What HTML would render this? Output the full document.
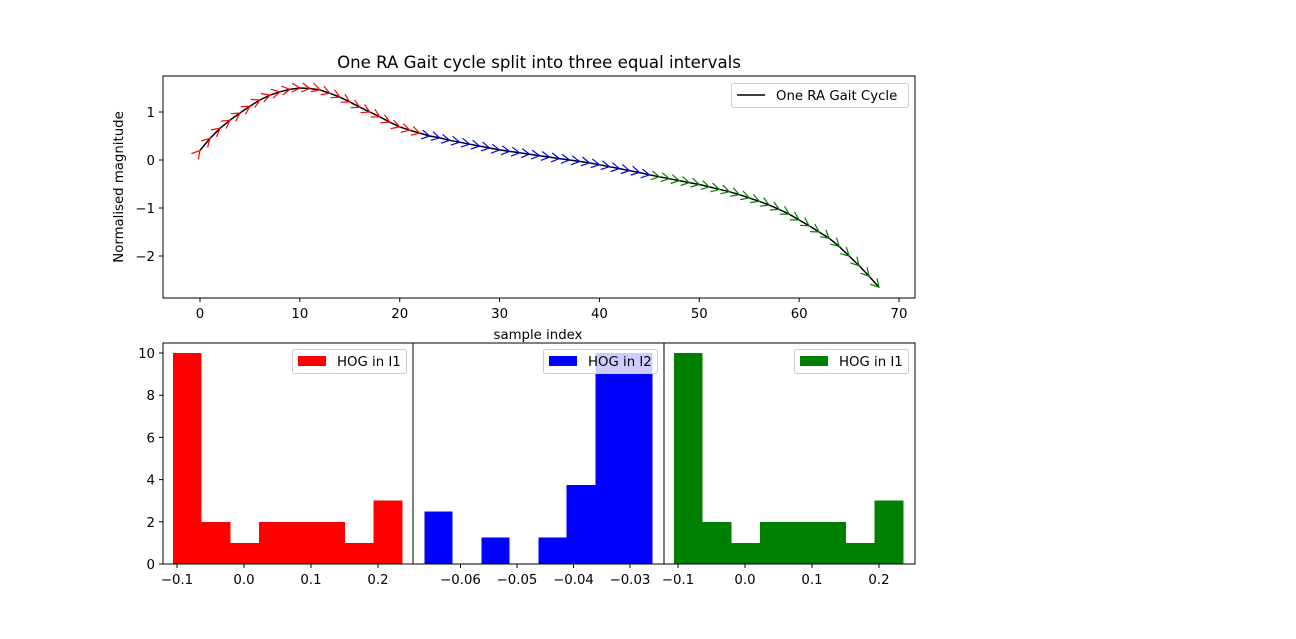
<!DOCTYPE html>
<html><head><meta charset="utf-8"><style>
body{margin:0;background:#fff;}
svg text{font-family:"DejaVu Sans","Liberation Sans",sans-serif;font-size:13.3px;fill:#000;}
</style></head><body>
<svg id="fig" width="1296" height="634" xmlns="http://www.w3.org/2000/svg">
<rect width="1296" height="634" fill="#fff"/>
<g id="topchart"></g>
<g id="h1"></g>
<g id="h2"></g>
<g id="h3"></g>
</svg>
<script>
const gaitValues=[0.2,0.45,0.66,0.83,0.98,1.12,1.25,1.35,1.42,1.47,1.5,1.49,1.46,1.39,1.31,1.21,1.1,1.0,0.9,0.79,0.69,0.62,0.56,0.5,0.46,0.41,0.37,0.33,0.29,0.25,0.21,0.18,0.15,0.12,0.09,0.06,0.03,0.0,-0.03,-0.06,-0.1,-0.14,-0.18,-0.22,-0.26,-0.31,-0.35,-0.39,-0.43,-0.47,-0.51,-0.56,-0.61,-0.66,-0.72,-0.79,-0.86,-0.94,-1.03,-1.13,-1.25,-1.37,-1.5,-1.63,-1.8,-2.0,-2.2,-2.42,-2.65];
const topXTicks=[0,10,20,30,40,50,60,70];
const topYTicks=[1,0,-1,-2];
const hist1Edges=[-0.106,-0.0632,-0.0204,0.0224,0.0652,0.108,0.1508,0.1936,0.2364];
const hist1Counts=[10,2,1,2,2,2,1,3];
const hist2Edges=[-0.0664,-0.0614,-0.0563,-0.0513,-0.0462,-0.0412,-0.0361,-0.0311,-0.026];
const hist2Counts=[2.5,0,1.25,0,1.25,3.75,10,10];
const hist3Edges=[-0.106,-0.0632,-0.0204,0.0224,0.0652,0.108,0.1508,0.1936,0.2364];
const hist3Counts=[10,2,1,2,2,2,1,3];
const histYTicks=[0,2,4,6,8,10];
const hist1XTicks=[-0.1,0.0,0.1,0.2];
const hist2XTicks=[-0.06,-0.05,-0.04,-0.03];
const hist3XTicks=[-0.1,0.0,0.1,0.2];

const NS="http://www.w3.org/2000/svg";
function mk(parent,tag,attrs,text){const e=document.createElementNS(NS,tag);for(const k in attrs)e.setAttribute(k,attrs[k]);if(text!==undefined)e.textContent=text;parent.appendChild(e);return e;}
function fmt(v,d){const s=v.toFixed(d);return (v<0?'\u2212'+s.slice(1):s);}

const topG=document.getElementById('topchart');
const tx=v=>200+9.986*v, ty=v=>160-48*v;
let pts=gaitValues.map((v,i)=>tx(i).toFixed(1)+','+ty(v).toFixed(1)).join(' ');
let line=mk(topG,'polyline',{points:pts,fill:'none',stroke:'#000','stroke-width':1.5});


const cols=['red','blue','green'];
for(let i=0;i<gaitValues.length;i++){
  const seg=Math.min(2,Math.floor(i/23));
  const j=i<gaitValues.length-1?i+1:i, k=i<gaitValues.length-1?i:i-1;
  const dx=tx(j)-tx(k), dy=ty(gaitValues[j])-ty(gaitValues[k]);
  const L=Math.hypot(dx,dy), ux=dx/L, uy=dy/L;
  const px=tx(i), py=ty(gaitValues[i]);
  const bx=px-ux*8, by=py-uy*8, nx=-uy*4.5, ny=ux*4.5;
  const a=mk(topG,'polyline',{points:`${(bx+nx).toFixed(1)},${(by+ny).toFixed(1)} ${px.toFixed(1)},${py.toFixed(1)} ${(bx-nx).toFixed(1)},${(by-ny).toFixed(1)}`,fill:'none',stroke:cols[seg],'stroke-width':1.2});
  
  
}
mk(topG,'rect',{x:163,y:76,width:752,height:222,fill:'none',stroke:'#000','stroke-width':1});
topXTicks.forEach(v=>{mk(topG,'line',{x1:tx(v),x2:tx(v),y1:298,y2:302,stroke:'#000'});const t=mk(topG,'text',{x:tx(v),y:318,'text-anchor':'middle'},String(v));});
topYTicks.forEach(v=>{mk(topG,'line',{x1:159,x2:163,y1:ty(v),y2:ty(v),stroke:'#000'});const t=mk(topG,'text',{x:155,y:ty(v)+5,'text-anchor':'end'},fmt(v,0));});
let t1=mk(topG,'text',{x:539,y:68,'text-anchor':'middle','style':'font-size:16.6px'},'One RA Gait cycle split into three equal intervals');

let t2=mk(topG,'text',{x:538,y:339,'text-anchor':'middle'},'sample index');

let t3=mk(topG,'text',{x:0,y:0,'text-anchor':'middle',transform:'translate(123,187) rotate(-90)'},'Normalised magnitude');

let lg=mk(topG,'g',{});

mk(lg,'rect',{x:731.5,y:83.5,width:177,height:24,rx:2,fill:'#fff','fill-opacity':0.8,stroke:'#ccc'});
mk(lg,'line',{x1:737,x2:765,y1:95,y2:95,stroke:'#000','stroke-width':1.5});
mk(lg,'text',{x:776,y:100},'One RA Gait Cycle');

function hist(id,x0,x1,xmap,edges,counts,color,xticks,dec,label,showY){
  const g=document.getElementById(id);
  const yv=v=>564-21.1*v;
  for(let i=0;i<counts.length;i++){
    if(counts[i]<=0)continue;
    const r=mk(g,'rect',{x:xmap(edges[i]),y:yv(counts[i]),width:xmap(edges[i+1])-xmap(edges[i]),height:564-yv(counts[i]),fill:color,'shape-rendering':'crispEdges'});
    
    
  }
  mk(g,'rect',{x:x0,y:343,width:x1-x0,height:221,fill:'none',stroke:'#000'});
  xticks.forEach(v=>{const p=xmap(v);mk(g,'line',{x1:p,x2:p,y1:564,y2:568,stroke:'#000'});const t=mk(g,'text',{x:p,y:584,'text-anchor':'middle'},fmt(v,dec));});
  if(showY)histYTicks.forEach(v=>{mk(g,'line',{x1:x0-4,x2:x0,y1:yv(v),y2:yv(v),stroke:'#000'});const t=mk(g,'text',{x:x0-8,y:yv(v)+5,'text-anchor':'end'},String(v));});
  const lw=114, lx=x1-7-lw;
  const l=mk(g,'g',{});
  
  
  mk(l,'rect',{x:lx+0.5,y:349.5,width:lw,height:24,rx:2,fill:'#fff','fill-opacity':0.8,stroke:'#ccc'});
  mk(l,'rect',{x:lx+6,y:356,width:28,height:10,fill:color});
  mk(l,'text',{x:lx+45,y:366},label);
}
hist('h1',163,413,v=>177+670*(v+0.1),hist1Edges,hist1Counts,'#ff0000',hist1XTicks,1,'HOG in I1',true);
hist('h2',413,664,v=>517+5650*(v+0.05),hist2Edges,hist2Counts,'#0000ff',hist2XTicks,2,'HOG in I2',false);
hist('h3',664,915,v=>678+670*(v+0.1),hist3Edges,hist3Counts,'#008000',hist3XTicks,1,'HOG in I1',false);
</script>
</body></html>
